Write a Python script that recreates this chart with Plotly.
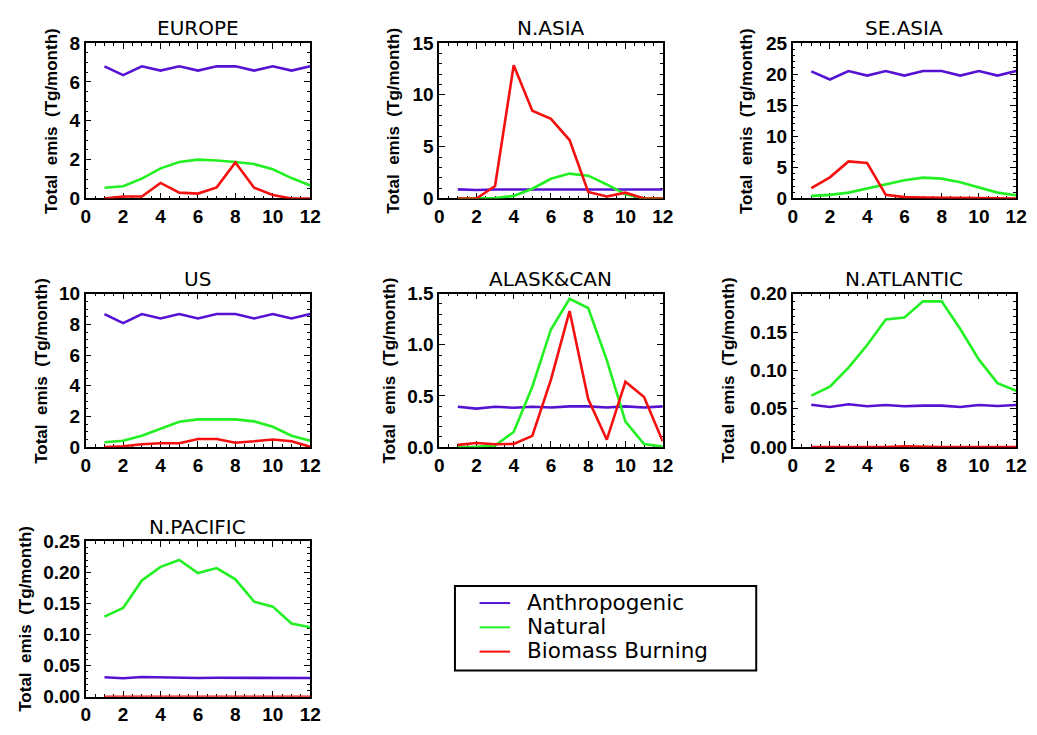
import plotly.graph_objects as go

W, H = 1037, 735
months = list(range(1, 13))

# Monthly total emissions (Tg/month) by region and source
europe_anthro = [6.8, 6.35, 6.8, 6.58, 6.8, 6.58, 6.8, 6.8, 6.58, 6.8, 6.58, 6.8]
europe_natural = [0.55, 0.63, 1.02, 1.55, 1.88, 2.0, 1.95, 1.88, 1.77, 1.5, 1.05, 0.67]
europe_biomass = [0.0, 0.1, 0.1, 0.8, 0.3, 0.25, 0.57, 1.85, 0.55, 0.18, 0.0, 0.0]

nasia_anthro = [0.88, 0.82, 0.86, 0.86, 0.86, 0.86, 0.86, 0.86, 0.86, 0.86, 0.86, 0.86]
nasia_natural = [0.0, 0.0, 0.03, 0.25, 0.94, 1.9, 2.4, 2.2, 1.35, 0.4, 0.0, 0.0]
nasia_biomass = [0.0, 0.0, 1.2, 12.85, 8.46, 7.68, 5.64, 0.63, 0.19, 0.56, 0.0, 0.0]

seasia_anthro = [20.45, 19.14, 20.5, 19.77, 20.5, 19.77, 20.5, 20.5, 19.77, 20.5, 19.77, 20.5]
seasia_natural = [0.42, 0.58, 0.94, 1.57, 2.25, 2.93, 3.35, 3.19, 2.62, 1.83, 0.94, 0.52]
seasia_biomass = [1.67, 3.4, 5.96, 5.7, 0.58, 0.21, 0.16, 0.16, 0.1, 0.05, 0.02, 0.0]

us_anthro = [8.67, 8.08, 8.67, 8.38, 8.67, 8.38, 8.67, 8.67, 8.38, 8.67, 8.38, 8.67]
us_natural = [0.32, 0.42, 0.74, 1.22, 1.66, 1.81, 1.81, 1.81, 1.68, 1.33, 0.74, 0.42]
us_biomass = [0.0, 0.06, 0.19, 0.25, 0.25, 0.53, 0.53, 0.29, 0.38, 0.5, 0.38, 0.02]

alaskcan_anthro = [0.395, 0.376, 0.395, 0.385, 0.395, 0.388, 0.398, 0.398, 0.388, 0.398, 0.388, 0.398]
alaskcan_natural = [0.0, 0.003, 0.016, 0.148, 0.59, 1.15, 1.45, 1.36, 0.85, 0.25, 0.03, 0.006]
alaskcan_biomass = [0.022, 0.041, 0.028, 0.032, 0.11, 0.66, 1.33, 0.47, 0.073, 0.64, 0.49, 0.057]

natlantic_anthro = [0.0553, 0.0524, 0.0558, 0.0532, 0.0549, 0.0532, 0.0541, 0.0541, 0.0524, 0.0549, 0.0537, 0.0549]
natlantic_natural = [0.0671, 0.0788, 0.1036, 0.133, 0.1665, 0.169, 0.190, 0.190, 0.154, 0.114, 0.0834, 0.0734]
natlantic_biomass = [0.0, 0.0, 0.0, 0.0, 0.0, 0.0012, 0.0003, 0.0, 0.0, 0.0, 0.0, 0.0]

npacific_anthro = [0.0314, 0.0298, 0.0319, 0.031, 0.0308, 0.0302, 0.0306, 0.0306, 0.0308, 0.0306, 0.0304, 0.0302]
npacific_natural = [0.129, 0.143, 0.187, 0.209, 0.22, 0.199, 0.207, 0.189, 0.153, 0.145, 0.118, 0.112]
npacific_biomass = [0.0] * 12

region_names = ["EUROPE", "N.ASIA", "SE.ASIA", "US", "ALASK&CAN", "N.ATLANTIC", "N.PACIFIC"]
series_names = ["Anthropogenic", "Natural", "Biomass Burning"]
region_data = [
    (europe_anthro, europe_natural, europe_biomass),
    (nasia_anthro, nasia_natural, nasia_biomass),
    (seasia_anthro, seasia_natural, seasia_biomass),
    (us_anthro, us_natural, us_biomass),
    (alaskcan_anthro, alaskcan_natural, alaskcan_biomass),
    (natlantic_anthro, natlantic_natural, natlantic_biomass),
    (npacific_anthro, npacific_natural, npacific_biomass),
]
y_title = "Total\u00a0 emis\u00a0 (Tg/month)"

# y-axis: (max, major step, minor step, tick format)
y_axes = [
    (8, 2, 0.5, "d"),
    (15, 5, 1, "d"),
    (25, 5, 1, "d"),
    (10, 2, 0.5, "d"),
    (1.5, 0.5, 0.1, ".1f"),
    (0.2, 0.05, 0.01, ".2f"),
    (0.25, 0.05, 0.01, ".2f"),
]

colors = ["#5512D2", "#22F022", "#F51010"]

# panel boxes in pixels (left, right) and (top, bottom)
cols_px = [(82, 310), (441, 668), (800, 1027)]
rows_px = [(34, 194), (292, 450), (547, 707)]
# horizontal centre of each panel's y-axis title, in pixels
ytitle_px = [47, 395, 753, 37, 390, 735, 20]

TICK_FONT = dict(family="Liberation Sans", size=19, color="black", weight="bold")
TEXT_FONT = "DejaVu Sans"

fig = go.Figure()
annotations = []
shapes = []

for i, (name, data, yinfo) in enumerate(zip(region_names, region_data, y_axes)):
    r, c = divmod(i, 3)
    x0, x1 = cols_px[c]
    yt, yb = rows_px[r]
    xd = [x0 / W, x1 / W]
    yd = [1 - yb / H, 1 - yt / H]
    sfx = "" if i == 0 else str(i + 1)
    xa, ya = "x" + sfx, "y" + sfx

    for sname, vals, col in zip(series_names, data, colors):
        fig.add_trace(go.Scatter(
            x=months, y=vals, mode="lines", name=sname,
            line=dict(color=col, width=2.6), xaxis=xa, yaxis=ya,
            showlegend=False, cliponaxis=False,
        ))

    ymax, ystep, yminor, yfmt = yinfo
    common = dict(
        showline=True, linecolor="black", linewidth=1.5, mirror="ticks",
        ticks="inside", ticklen=6, tickwidth=1, tickcolor="black",
        showgrid=False, zeroline=False, tickfont=TICK_FONT,
        layer="below traces",
    )
    fig.layout["xaxis" + sfx] = dict(
        domain=xd, range=[0, 12], tick0=0, dtick=2, anchor=ya,
        minor=dict(dtick=0.5, ticks="inside", ticklen=3, tickcolor="black", showgrid=False),
        **common,
    )
    fig.layout["yaxis" + sfx] = dict(
        domain=yd, range=[0, ymax], tick0=0, dtick=ystep, anchor=xa,
        tickformat=yfmt,
        minor=dict(dtick=yminor, ticks="inside", ticklen=3, tickcolor="black", showgrid=False),
        **common,
    )
    # panel title
    annotations.append(dict(
        text=name, xref="paper", yref="paper",
        x=(x0 + x1) / 2 / W, y=1 - (yt - 15) / H,
        xanchor="center", yanchor="middle", showarrow=False,
        font=dict(family=TEXT_FONT, size=20, color="black"),
    ))
    # y-axis title
    annotations.append(dict(
        text=y_title, xref="paper", yref="paper", textangle=-90,
        x=ytitle_px[i] / W, y=1 - (yt + yb) / 2 / H,
        xanchor="center", yanchor="middle", showarrow=False,
        font=dict(family="Liberation Sans", size=17, color="black", weight="bold"),
    ))

# legend box
lx0, lx1, ly0, ly1 = 457, 763, 593, 680
shapes.append(dict(type="rect", xref="paper", yref="paper",
                   x0=lx0 / W, x1=lx1 / W, y0=1 - ly1 / H, y1=1 - ly0 / H,
                   line=dict(color="black", width=2), fillcolor="white"))
for k, (sname, col) in enumerate(zip(series_names, colors)):
    yc = 610.5 + 25 * k
    shapes.append(dict(type="line", xref="paper", yref="paper",
                       x0=482 / W, x1=513 / W, y0=1 - yc / H, y1=1 - yc / H,
                       line=dict(color=col, width=2)))
    annotations.append(dict(
        text=sname, xref="paper", yref="paper",
        x=528 / W, y=1 - (yc - 1) / H, xanchor="left", yanchor="middle",
        showarrow=False, font=dict(family=TEXT_FONT, size=21.5, color="black"),
    ))

fig.update_layout(
    width=W, height=H,
    margin=dict(l=0, r=0, t=0, b=0),
    paper_bgcolor="white", plot_bgcolor="white",
    showlegend=False,
    annotations=annotations, shapes=shapes,
)

fig.write_html("out.html")
